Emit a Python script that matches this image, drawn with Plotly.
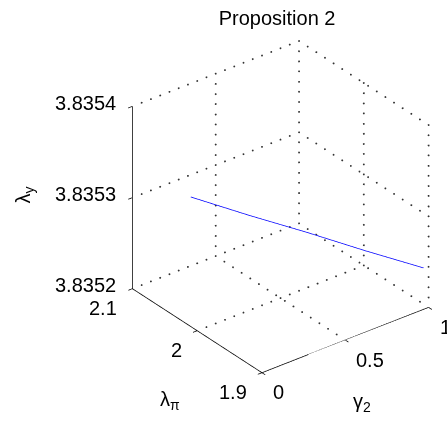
import numpy as np
import plotly.graph_objects as go

# ---- data ----
gamma2 = [0.0, 0.25, 0.5, 0.75, 1.0]
lambda_pi = [2.010, 1.9845, 1.9589, 1.9334, 1.9078]
lambda_y = [3.835342, 3.835316, 3.835291, 3.835265, 3.835240]

x_ticks = [0, 0.5, 1]
y_ticks = [1.9, 2.0, 2.1]
z_ticks = [3.8352, 3.8353, 3.8354]
x_ticklabels = ["0", "0.5", "1"]
y_ticklabels = ["1.9", "2", "2.1"]
z_ticklabels = ["3.8352", "3.8353", "3.8354"]

xmin, xmax = x_ticks[0], x_ticks[-1]
ymin, ymax = y_ticks[0], y_ticks[-1]
zmin, zmax = z_ticks[0], z_ticks[-1]
dx, dy, dz = xmax - xmin, ymax - ymin, zmax - zmin
pad = 0.04  # keep box edges away from the clipping bounds

# ---- dotted grid on the back planes (rows of small dots, ~10 px apart) ----
gx, gy, gz = [], [], []
NX, NY, NZ = 18, 15, 18  # dots per edge along x, y, z
def dots(p, q, n):
    for s in np.linspace(0, 1, n + 1)[1:]:
        gx.append(p[0] + (q[0] - p[0]) * s)
        gy.append(p[1] + (q[1] - p[1]) * s)
        gz.append(p[2] + (q[2] - p[2]) * s)

for xv in x_ticks:
    if xv != xmin:
        dots((xv, ymin, zmin), (xv, ymax, zmin), NY)
        dots((xv, ymax, zmin), (xv, ymax, zmax), NZ)
for yv in y_ticks:
    if yv != ymin:
        dots((xmin, yv, zmin), (xmax, yv, zmin), NX)
    dots((xmax, yv, zmin), (xmax, yv, zmax), NZ)
for zv in z_ticks:
    if zv != zmin:
        dots((xmin, ymax, zv), (xmax, ymax, zv), NX)
        dots((xmax, ymin, zv), (xmax, ymax, zv), NY)

# ---- solid axis lines + tick marks ----
A = ([], [], [])
def seg(lst, p, q):
    lst[0].extend([p[0], q[0], None]); lst[1].extend([p[1], q[1], None]); lst[2].extend([p[2], q[2], None])

seg(A, (xmin, ymin, zmin), (xmax, ymin, zmin))
seg(A, (xmin, ymin, zmin), (xmin, ymax, zmin))
seg(A, (xmin, ymax, zmin), (xmin, ymax, zmax))
tl = 0.025
for xv in x_ticks:
    seg(A, (xv, ymin, zmin), (xv, ymin - tl * dy, zmin))
for yv in y_ticks:
    seg(A, (xmin, yv, zmin), (xmin - tl * dx, yv, zmin))
for zv in z_ticks:
    seg(A, (xmin, ymax, zv), (xmin - tl * dx, ymax, zv))

fig = go.Figure()
fig.add_trace(go.Scatter3d(x=gx, y=gy, z=gz, mode="markers",
                           marker=dict(color="#333333", size=1.1, line=dict(width=0)),
                           hoverinfo="skip", showlegend=False))
fig.add_trace(go.Scatter3d(x=A[0], y=A[1], z=A[2], mode="lines",
                           line=dict(color="black", width=1.5),
                           hoverinfo="skip", showlegend=False))
fig.add_trace(go.Scatter3d(x=gamma2, y=lambda_pi, z=lambda_y, mode="lines",
                           line=dict(color="blue", width=1.5),
                           showlegend=False))

font = dict(family="Liberation Sans, Arial, sans-serif", size=20, color="black")

def axis(lo, hi, d):
    return dict(range=[lo - pad * d, hi + pad * d], title=dict(text=""),
                showticklabels=False, ticks="",
                showgrid=False, zeroline=False, showline=False,
                showbackground=False, showspikes=False, autorange=False)

ann = []
for zv, tt in zip(z_ticks, z_ticklabels):
    ann.append(dict(x=xmin, y=ymax, z=zv, text=tt, showarrow=False, font=font,
                    xanchor="right", yanchor="middle", xshift=-14, yshift=4))
for yv, tt in zip(y_ticks, y_ticklabels):
    ann.append(dict(x=xmin, y=yv, z=zmin, text=tt, showarrow=False, font=font,
                    xanchor="right", yanchor="middle", xshift=-13, yshift=-19))
for xv, tt in zip(x_ticks, x_ticklabels):
    ann.append(dict(x=xv, y=ymin, z=zmin, text=tt, showarrow=False, font=font,
                    xanchor="left", yanchor="middle", xshift=9, yshift=-19))
ann.append(dict(x=xmin, y=(ymin + ymax) / 2, z=zmin, text="λ<sub>π</sub>", showarrow=False,
                font=font, xanchor="center", yanchor="middle", xshift=-27, yshift=-69))
ann.append(dict(x=(xmin + xmax) / 2, y=ymin, z=zmin, text="γ<sub>2</sub>", showarrow=False,
                font=font, xanchor="center", yanchor="middle", xshift=17, yshift=-62))
ann.append(dict(x=xmin, y=ymax, z=(zmin + zmax) / 2, text="λ<sub>y</sub>", showarrow=False,
                font=font, xanchor="center", yanchor="middle", xshift=-108, yshift=3,
                textangle=-90))

k = 1.575
a = 1.22 * (1 + 2 * pad)
fig.update_layout(
    width=447, height=423,
    margin=dict(l=0, r=0, t=0, b=0),
    paper_bgcolor="white",
    title=dict(text="Proposition 2", font=font, x=0.62, xanchor="center",
               y=1 - 18 / 423, yanchor="middle"),
    scene=dict(
        domain=dict(x=[0.255, 1.0], y=[0.1, 0.919]),
        xaxis=axis(xmin, xmax, dx),
        yaxis=axis(ymin, ymax, dy),
        zaxis=axis(zmin, zmax, dz),
        aspectmode="manual", aspectratio=dict(x=a, y=a, z=a),
        camera=dict(eye=dict(x=-0.532 * k, y=-0.684 * k, z=0.506 * k),
                    up=dict(x=0, y=0, z=1), center=dict(x=0, y=0, z=0),
                    projection=dict(type="orthographic")),
        annotations=ann,
    ),
)

fig.write_html("out.html")
